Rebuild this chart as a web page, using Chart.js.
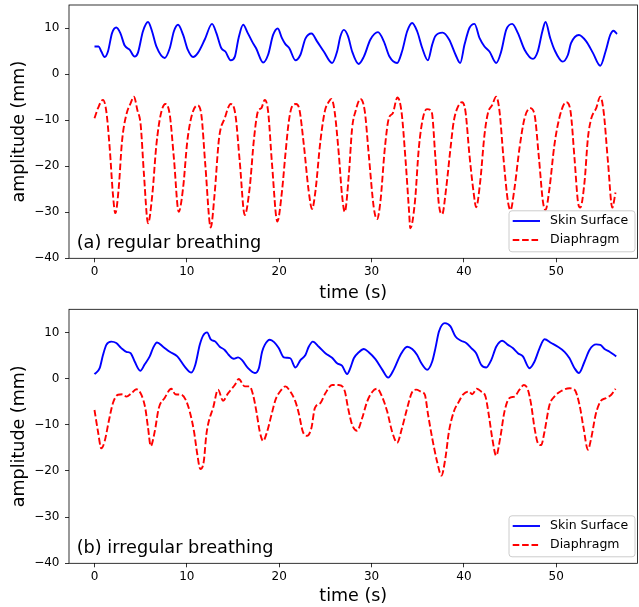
<!DOCTYPE html>
<html><head><meta charset="utf-8">
<script src="https://cdn.jsdelivr.net/npm/chart.js@4.4.0/dist/chart.umd.min.js"></script>
<style>
html,body{margin:0;padding:0;background:#fff;}
#wrap{position:relative;width:639px;height:607px;overflow:hidden;}
canvas{position:absolute;left:0;}
</style></head><body>
<div id="wrap">
<canvas id="c1" width="639" height="304" style="top:0"></canvas>
<canvas id="c2" width="639" height="303" style="top:304px"></canvas>
</div>
<script>
// ---- data: [time (s), amplitude (mm)] ----
const regularSkin = [[0,6.0],[0.45,6.0],[0.74,4.9],[1.1,3.7],[1.46,4.9],[1.9,8.9],[2.36,10.1],[2.8,8.9],[3.27,6.2],[3.8,5.3],[4.35,3.8],[4.7,4.6],[5.25,9.3],[5.8,11.3],[6.23,9.3],[6.7,6.0],[7.6,3.5],[8.15,5.6],[8.6,9.3],[9.05,10.7],[9.6,8.5],[10.1,5.3],[10.67,3.7],[11.2,4.6],[11.94,7.5],[12.73,10.9],[13.2,8.9],[13.74,5.6],[14.17,4.9],[14.75,3.0],[15.2,3.8],[15.6,7.8],[16.1,10.7],[16.6,8.9],[17.06,7.1],[17.5,5.6],[18.26,2.5],[18.8,4.2],[19.34,8.5],[19.85,9.9],[20.3,7.8],[20.67,6.5],[21.1,5.6],[21.76,3.0],[22.3,4.2],[22.84,7.7],[23.5,8.8],[24.1,7.1],[24.83,4.9],[25.73,2.4],[26.27,4.9],[26.63,8.2],[27.0,9.6],[27.46,8.2],[27.9,4.9],[28.6,2.2],[29.17,3.8],[29.88,7.5],[30.7,9.1],[31.33,7.1],[31.94,3.8],[32.77,2.4],[33.3,4.9],[33.86,9.3],[34.4,11.1],[34.94,9.3],[35.5,5.6],[36.1,3.0],[36.57,6.4],[36.9,8.2],[37.7,9.0],[38.4,7.5],[39.1,4.2],[39.6,2.4],[40.07,6.4],[40.6,10.0],[41.15,10.9],[41.7,7.8],[42.23,6.0],[42.77,4.9],[43.5,2.4],[44.04,4.9],[44.58,9.6],[45.23,10.9],[45.85,8.9],[46.57,5.3],[47.48,3.3],[48.0,4.9],[48.5,9.3],[48.84,11.3],[49.35,7.8],[49.8,5.3],[50.7,2.7],[51.27,4.2],[51.6,6.7],[52.46,8.5],[53.25,7.1],[53.97,4.6],[54.77,1.8],[55.34,4.9],[55.85,8.5],[56.2,9.4],[56.58,8.7]];
const regularDiaphragm = [[0,-9.6],[0.38,-7.4],[0.92,-5.6],[1.28,-8.1],[1.65,-16.1],[2.0,-26.2],[2.26,-30.2],[2.62,-24.8],[2.98,-14.6],[3.45,-8.8],[3.92,-6.3],[4.28,-4.9],[4.64,-7.8],[5.0,-11.0],[5.36,-21.9],[5.8,-32.4],[6.26,-26.2],[6.7,-15.4],[7.17,-8.8],[7.67,-6.5],[8.15,-8.8],[8.6,-18.3],[9.12,-29.9],[9.59,-24.8],[10.05,-14.6],[10.56,-8.8],[11.14,-6.8],[11.57,-8.8],[12.0,-19.7],[12.59,-33.3],[13.0,-26.2],[13.49,-13.9],[14.1,-9.6],[14.75,-6.5],[15.26,-8.8],[15.73,-19.0],[16.27,-30.6],[16.8,-24.8],[17.28,-13.9],[17.7,-8.1],[18.07,-7.4],[18.44,-5.6],[18.8,-8.1],[19.23,-19.7],[19.8,-32.0],[20.3,-25.5],[20.67,-17.5],[21.04,-10.3],[21.4,-7.0],[21.83,-6.5],[22.2,-7.8],[22.67,-15.4],[23.2,-25.5],[23.56,-29.3],[23.92,-25.5],[24.46,-14.6],[24.94,-8.1],[25.37,-6.0],[25.65,-5.4],[26.0,-8.1],[26.46,-17.5],[26.8,-26.2],[27.1,-29.9],[27.54,-21.9],[27.9,-11.7],[28.26,-8.1],[28.8,-5.4],[29.27,-8.1],[29.7,-17.5],[30.25,-29.1],[30.6,-31.5],[30.96,-27.7],[31.44,-16.1],[31.87,-9.6],[32.3,-8.5],[32.8,-5.1],[33.24,-8.1],[33.67,-18.3],[34.04,-29.1],[34.2,-33.5],[34.7,-27.7],[35.12,-16.1],[35.56,-9.6],[36.0,-7.6],[36.5,-8.1],[36.92,-18.3],[37.3,-28.4],[37.65,-30.4],[38.08,-24.8],[38.55,-16.1],[38.9,-10.3],[39.38,-7.0],[39.8,-6.1],[40.17,-8.1],[40.6,-17.5],[41.04,-25.5],[41.33,-28.9],[41.77,-23.3],[42.23,-13.2],[42.6,-8.5],[43.07,-6.7],[43.5,-4.9],[43.86,-8.1],[44.29,-18.3],[44.77,-27.7],[45.05,-29.5],[45.48,-24.8],[46.02,-16.1],[46.57,-9.6],[47.18,-7.4],[47.65,-8.8],[48.13,-18.3],[48.56,-27.7],[48.84,-29.5],[49.27,-24.8],[49.8,-15.4],[50.43,-8.8],[51.08,-6.1],[51.55,-8.1],[51.98,-18.3],[52.35,-27.7],[52.6,-29.0],[53.07,-23.3],[53.43,-13.9],[53.8,-9.6],[54.33,-7.4],[54.77,-4.9],[55.13,-8.1],[55.6,-19.0],[56.07,-29.0],[56.42,-25.7]];
const irregularSkin = [[0,0.95],[0.56,2.25],[0.92,5.1],[1.28,7.3],[1.82,8.0],[2.36,7.7],[2.9,6.6],[3.45,5.8],[3.92,5.5],[4.35,3.7],[4.96,1.7],[5.44,3.1],[5.98,4.8],[6.34,6.6],[6.77,7.8],[7.42,6.9],[8.15,5.8],[8.97,4.8],[9.77,2.6],[10.49,1.3],[10.92,3.0],[11.4,7.3],[11.76,9.3],[12.19,10.0],[12.59,8.5],[13.09,8.0],[13.56,6.9],[14.1,6.2],[14.54,5.1],[15.08,4.3],[15.55,4.6],[15.98,4.0],[16.63,2.25],[17.36,1.2],[17.8,2.25],[18.15,5.8],[18.44,7.3],[18.98,8.4],[19.45,7.9],[19.95,6.6],[20.5,4.6],[20.86,4.5],[21.2,4.4],[21.76,2.4],[22.3,4.0],[22.84,5.1],[23.2,6.9],[23.64,8.0],[24.29,6.9],[25.0,5.5],[25.73,4.5],[26.27,3.3],[26.8,2.8],[27.36,1.0],[27.7,2.25],[28.08,4.4],[28.62,5.7],[29.17,6.4],[29.7,5.7],[30.42,4.2],[31.14,2.0],[31.8,0.2],[32.42,2.0],[33.13,5.1],[33.86,6.9],[34.4,6.4],[34.94,5.1],[35.4,3.3],[36.02,1.9],[36.57,3.7],[36.92,6.6],[37.3,10.2],[37.94,12.0],[38.55,11.3],[39.09,9.1],[39.7,8.2],[40.25,7.7],[40.8,6.6],[41.33,5.5],[41.87,3.0],[42.42,2.4],[42.96,4.0],[43.5,6.9],[44.15,8.2],[44.77,7.3],[45.3,6.6],[45.85,5.5],[46.39,4.8],[47.1,2.25],[47.65,3.7],[48.2,6.6],[48.73,8.5],[49.46,7.7],[50.18,6.9],[50.9,5.8],[51.44,4.4],[51.98,2.25],[52.46,1.2],[53.07,3.7],[53.6,6.2],[54.33,7.4],[54.77,7.3],[55.23,6.4],[55.77,5.8],[56.5,4.8]];
const irregularDiaphragm = [[0,-6.8],[0.38,-11.5],[0.74,-15.1],[1.1,-13.6],[1.54,-9.3],[2.0,-5.3],[2.55,-3.5],[3.09,-3.4],[3.45,-3.9],[3.99,-3.2],[4.53,-2.3],[5.07,-3.5],[5.5,-6.4],[5.8,-10.7],[6.09,-14.6],[6.52,-11.5],[6.96,-6.4],[7.6,-4.2],[8.32,-2.2],[8.75,-3.4],[9.4,-3.5],[9.88,-4.6],[10.31,-7.1],[10.78,-11.5],[11.14,-16.5],[11.46,-19.6],[11.83,-18.0],[12.11,-12.2],[12.37,-9.3],[12.84,-6.4],[13.38,-2.4],[13.92,-4.8],[14.46,-3.2],[15.19,-1.4],[15.62,-0.1],[16.27,-1.7],[16.8,-1.7],[17.17,-3.5],[17.53,-7.1],[17.9,-11.5],[18.26,-13.5],[18.69,-11.5],[19.16,-7.9],[19.6,-4.6],[20.13,-2.7],[20.67,-1.7],[21.2,-2.8],[21.76,-5.0],[22.12,-7.5],[22.56,-11.5],[23.02,-12.4],[23.49,-10.7],[23.86,-6.4],[24.46,-5.3],[25.0,-3.2],[25.73,-1.4],[26.46,-1.4],[27.1,-2.7],[27.46,-6.4],[27.9,-10.0],[28.44,-11.3],[28.98,-8.6],[29.52,-5.0],[30.07,-2.9],[30.6,-2.2],[31.14,-3.9],[31.69,-7.1],[32.23,-11.5],[32.77,-13.9],[33.3,-10.7],[33.86,-6.4],[34.4,-2.9],[34.83,-2.4],[35.4,-2.9],[35.77,-3.5],[36.13,-7.9],[36.57,-12.9],[37.1,-18.0],[37.57,-21.0],[38.0,-17.2],[38.38,-11.5],[38.92,-7.1],[39.46,-5.0],[39.9,-3.5],[40.54,-2.8],[40.9,-3.4],[41.4,-2.2],[41.87,-2.8],[42.34,-3.9],[42.7,-7.9],[43.07,-12.9],[43.5,-16.7],[43.93,-12.9],[44.4,-7.1],[44.94,-4.2],[45.48,-3.9],[46.02,-2.4],[46.5,-1.4],[46.93,-2.4],[47.29,-5.7],[47.65,-10.7],[48.02,-14.0],[48.37,-14.4],[48.73,-11.5],[49.27,-5.7],[49.8,-3.9],[50.54,-2.7],[51.44,-2.1],[51.98,-2.4],[52.52,-5.7],[52.96,-10.7],[53.43,-15.4],[53.79,-12.9],[54.26,-7.9],[54.77,-5.0],[55.42,-4.2],[55.96,-3.5],[56.42,-2.2]];
const xTicks = [0, 10, 20, 30, 40, 50];
const yTicks = [-40, -30, -20, -10, 0, 10];
const seriesLabels = ['Skin Surface', 'Diaphragm'];
const panelCaptions = ['(a) regular breathing', '(b) irregular breathing'];

const X_MIN = -2.76, X_MAX = 58.8, Y_MIN = -40, Y_MAX = 15;
const FONT = '"DejaVu Sans", sans-serif';
const fmt = v => v < 0 ? '\u2212' + Math.abs(v) : String(v);

function decorPlugin(caption) {
  return {
    id: 'decor',
    afterDraw(chart) {
      const ctx = chart.ctx, a = chart.chartArea;
      ctx.save();
      ctx.strokeStyle = '#000'; ctx.lineWidth = 0.8;
      ctx.strokeRect(a.left, a.top, a.right - a.left, a.bottom - a.top);
      ctx.fillStyle = '#000';
      ctx.font = '17.7px ' + FONT;
      ctx.textBaseline = 'middle'; ctx.textAlign = 'left';
      ctx.fillText(caption, a.left + 7.7, a.bottom - 15);
      // legend
      const bx = a.right - 128.5, by = a.bottom - 47.5, bw = 126, bh = 41, r = 3;
      ctx.beginPath();
      ctx.moveTo(bx + r, by); ctx.lineTo(bx + bw - r, by); ctx.arcTo(bx + bw, by, bx + bw, by + r, r);
      ctx.lineTo(bx + bw, by + bh - r); ctx.arcTo(bx + bw, by + bh, bx + bw - r, by + bh, r);
      ctx.lineTo(bx + r, by + bh); ctx.arcTo(bx, by + bh, bx, by + bh - r, r);
      ctx.lineTo(bx, by + r); ctx.arcTo(bx, by, bx + r, by, r); ctx.closePath();
      ctx.fillStyle = 'rgba(255,255,255,0.8)'; ctx.fill();
      ctx.strokeStyle = '#cccccc'; ctx.lineWidth = 1; ctx.stroke();
      ctx.font = '12.5px ' + FONT;
      chart.data.datasets.forEach((ds, i) => {
        const cy = a.bottom - 37.3 + i * 19;
        ctx.beginPath();
        ctx.strokeStyle = ds.borderColor; ctx.lineWidth = ds.borderWidth;
        ctx.setLineDash(ds.borderDash || []);
        ctx.moveTo(a.right - 124.8, cy); ctx.lineTo(a.right - 97.5, cy); ctx.stroke();
        ctx.setLineDash([]);
        ctx.fillStyle = '#000';
        ctx.fillText(ds.label, a.right - 87.5, cy);
      });
      ctx.restore();
    }
  };
}

function makeChart(id, skin, dia, caption, padTop, xAxisH) {
  const tickFont = {family: FONT, size: 12};
  const titleFont = {family: FONT, size: 17.5};
  const gridOpts = {display: true, drawOnChartArea: false, drawTicks: true, tickLength: 4, tickColor: '#000', tickWidth: 0.8};
  return new Chart(document.getElementById(id), {
    type: 'line',
    data: {
      datasets: [
        {label: seriesLabels[0], data: skin.map(([x, y]) => ({x, y})), borderColor: '#0000ff', borderWidth: 1.9,
         pointRadius: 0, cubicInterpolationMode: 'monotone', fill: false},
        {label: seriesLabels[1], data: dia.map(([x, y]) => ({x, y})), borderColor: '#ff0000', borderWidth: 1.9,
         borderDash: [6.6, 2.8], pointRadius: 0, cubicInterpolationMode: 'monotone', fill: false}
      ]
    },
    options: {
      responsive: false, animation: false,
      layout: {padding: {top: padTop, right: 1.5, left: 0, bottom: 0}},
      plugins: {legend: {display: false}, tooltip: {enabled: false}},
      scales: {
        x: {
          type: 'linear', min: X_MIN, max: X_MAX,
          afterBuildTicks: s => { s.ticks = xTicks.map(v => ({value: v})); },
          afterFit: s => { s.height = xAxisH; s.paddingLeft = 0; s.paddingRight = 0; },
          grid: gridOpts, border: {display: false},
          ticks: {color: '#000', font: tickFont, padding: 2, maxRotation: 0, autoSkip: false, callback: v => fmt(v)},
          title: {display: true, text: 'time (s)', color: '#000', font: titleFont, padding: {top: 0, bottom: 0}}
        },
        y: {
          type: 'linear', min: Y_MIN, max: Y_MAX,
          afterBuildTicks: s => { s.ticks = yTicks.map(v => ({value: v})); },
          afterFit: s => { s.width = 69; s.paddingTop = 0; s.paddingBottom = 0; },
          grid: gridOpts, border: {display: false},
          ticks: {color: '#000', font: tickFont, padding: 5.5, autoSkip: false, callback: v => fmt(v)},
          title: {display: true, text: 'amplitude (mm)', color: '#000', font: titleFont, padding: {top: 9, bottom: 0}}
        }
      }
    },
    plugins: [decorPlugin(caption)]
  });
}

makeChart('c1', regularSkin, regularDiaphragm, panelCaptions[0], 5, 45.7);
makeChart('c2', irregularSkin, irregularDiaphragm, panelCaptions[1], 5.3, 43.7);
</script>
</body></html>
